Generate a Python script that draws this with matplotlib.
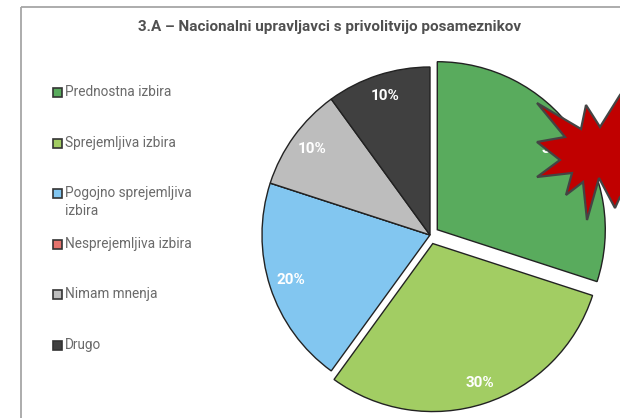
import matplotlib
matplotlib.use('Agg')
import matplotlib.pyplot as plt
from matplotlib.patches import Polygon, Rectangle

plt.rcParams['font.family'] = ['Roboto', 'DejaVu Sans']

title = '3.A – Nacionalni upravljavci s privolitvijo posameznikov'
categories = ['Prednostna izbira', 'Sprejemljiva izbira', 'Pogojno sprejemljiva\nizbira',
              'Nesprejemljiva izbira', 'Nimam mnenja', 'Drugo']
values = [30, 30, 20, 0, 10, 10]
colors = ['#59ab5d', '#a2cd63', '#82c6f0', '#e5736d', '#bdbdbd', '#404040']
explode = [9, 9, 0, 0, 0, 0]
legend_y = [92, 143, 193, 244, 294, 345]

H = 418
fig = plt.figure(figsize=(6.2, 4.18), dpi=100)
ax = fig.add_axes([0, 0, 1, 1])

ax.add_patch(Rectangle((20.5, H - 7), 700, -500, fill=False, ec='#a6a6a6', lw=1.3, clip_on=True))


def pct(v):
    return '%d%%' % round(v) if v > 0 else ''


wedges, texts, autotexts = ax.pie(values, colors=colors, explode=explode, startangle=90, counterclock=False,
                                  center=(430, H - 235), radius=168, frame=True, autopct=pct, pctdistance=0.87,
                                  wedgeprops={'edgecolor': '#222222', 'linewidth': 1.0})
ax.set_xlim(0, 620)
ax.set_ylim(0, H)
ax.set_aspect('auto')
ax.axis('off')
for t in autotexts:
    t.set_color('white')
    t.set_fontsize(11)
    t.set_fontweight('bold')
# green label sits almost fully under the star
x0, y0 = autotexts[0].get_position()
autotexts[0].set_position((x0, y0 - 5))
x2, y2 = autotexts[1].get_position()
autotexts[1].set_position((x2 + 2, y2))

ax.text(329.5, H - 27, title, ha='center', va='center', fontsize=11, fontweight='bold', color='#505050')

for name, col, y in zip(categories, colors, legend_y):
    ax.add_patch(Rectangle((52.5, H - y - 4.5), 9, 9, fc=col, ec='#333333', lw=1.2))
    first = name.split('\n')[0]
    ax.text(65, H - y, first, ha='left', va='center', fontsize=9.8, color='#6a6a6a')
    if '\n' in name:
        ax.text(65, H - y - 18, name.split('\n')[1], ha='left', va='center', fontsize=9.8, color='#6a6a6a')

star_x = [537, 581, 586, 600, 620, 640, 640, 620, 615, 599, 587, 583, 566, 572, 537, 560, 537, 565]
star_y = [103, 129, 105, 127, 95, 70, 190, 197, 208, 178, 220, 182, 195, 173, 177, 160, 142, 137]
ax.add_patch(Polygon(list(zip(star_x, [H - y for y in star_y])), closed=True, fc='#c00000', ec='#444444', lw=1.6,
                     zorder=5, clip_on=True))

fig.savefig('out.png', dpi=100)
